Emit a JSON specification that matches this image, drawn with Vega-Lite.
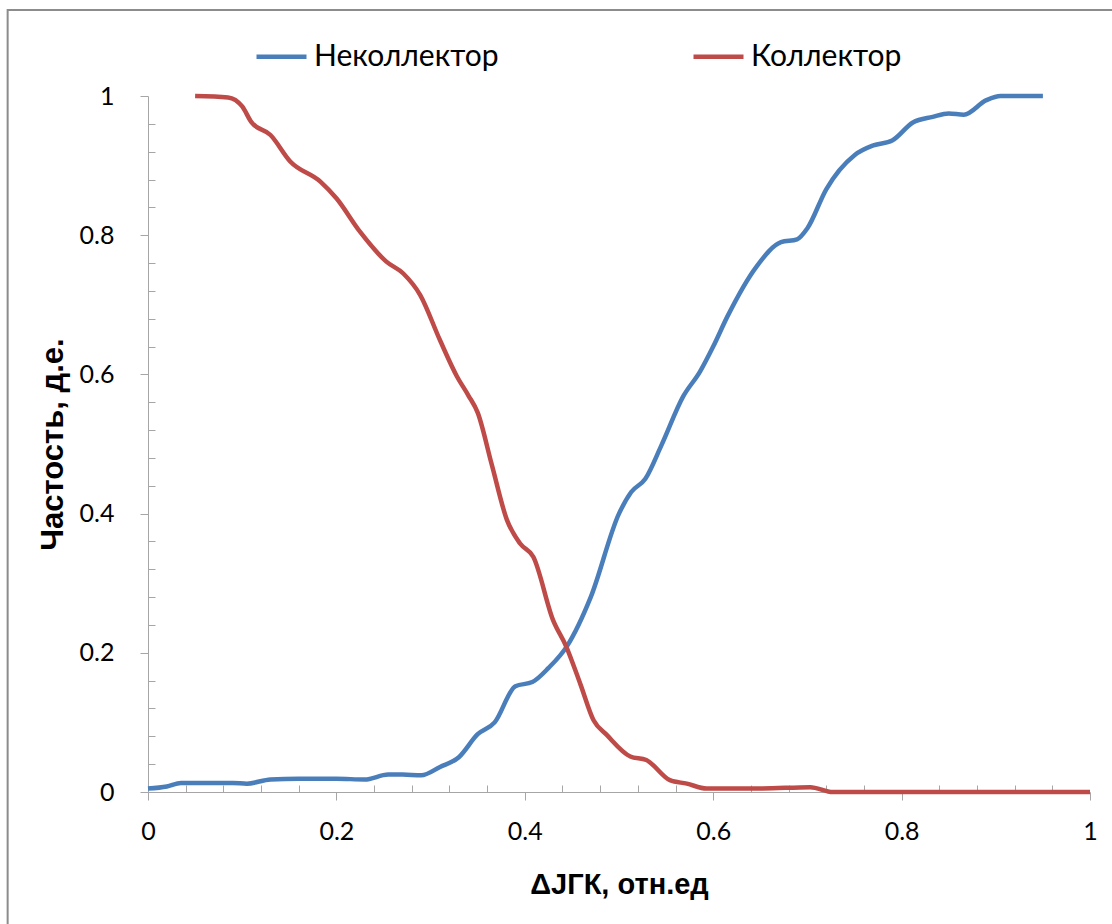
{
  "$schema": "https://vega.github.io/schema/vega-lite/v6.json",
  "width": 942,
  "height": 696,
  "autosize": {"type": "none"},
  "padding": {"left": 148, "top": 96, "right": 22, "bottom": 132},
  "background": "white",
  "config": {
    "view": {"stroke": null},
    "axis": {
      "domainColor": "#a6a6a6",
      "tickColor": "#a6a6a6",
      "gridColor": "#b3b3b3",
      "gridWidth": 1.3,
      "labelColor": "#000000",
      "labelFont": "Lato",
      "labelFontSize": 25,
      "titleColor": "#000000",
      "titleFont": "Liberation Sans",
      "titleFontWeight": "bold",
      "titleFontSize": 31
    }
  },
  "data": {
    "values": [
      {"series": "Неколлектор", "x": 0.0, "y": 0.005},
      {"series": "Неколлектор", "x": 0.02, "y": 0.008},
      {"series": "Неколлектор", "x": 0.035, "y": 0.013},
      {"series": "Неколлектор", "x": 0.06, "y": 0.013},
      {"series": "Неколлектор", "x": 0.09, "y": 0.013},
      {"series": "Неколлектор", "x": 0.105, "y": 0.012},
      {"series": "Неколлектор", "x": 0.13, "y": 0.018},
      {"series": "Неколлектор", "x": 0.16, "y": 0.019},
      {"series": "Неколлектор", "x": 0.2, "y": 0.019},
      {"series": "Неколлектор", "x": 0.23, "y": 0.018},
      {"series": "Неколлектор", "x": 0.255, "y": 0.025},
      {"series": "Неколлектор", "x": 0.27, "y": 0.025},
      {"series": "Неколлектор", "x": 0.29, "y": 0.024},
      {"series": "Неколлектор", "x": 0.31, "y": 0.036},
      {"series": "Неколлектор", "x": 0.33, "y": 0.05},
      {"series": "Неколлектор", "x": 0.35, "y": 0.083},
      {"series": "Неколлектор", "x": 0.368, "y": 0.1},
      {"series": "Неколлектор", "x": 0.39, "y": 0.152},
      {"series": "Неколлектор", "x": 0.408, "y": 0.158},
      {"series": "Неколлектор", "x": 0.425, "y": 0.178},
      {"series": "Неколлектор", "x": 0.445, "y": 0.21},
      {"series": "Неколлектор", "x": 0.47, "y": 0.28},
      {"series": "Неколлектор", "x": 0.5, "y": 0.4},
      {"series": "Неколлектор", "x": 0.513, "y": 0.431},
      {"series": "Неколлектор", "x": 0.528, "y": 0.45},
      {"series": "Неколлектор", "x": 0.545, "y": 0.498},
      {"series": "Неколлектор", "x": 0.568, "y": 0.568},
      {"series": "Неколлектор", "x": 0.586, "y": 0.604},
      {"series": "Неколлектор", "x": 0.6, "y": 0.64},
      {"series": "Неколлектор", "x": 0.615, "y": 0.683},
      {"series": "Неколлектор", "x": 0.646, "y": 0.755},
      {"series": "Неколлектор", "x": 0.672, "y": 0.79},
      {"series": "Неколлектор", "x": 0.689, "y": 0.794},
      {"series": "Неколлектор", "x": 0.7, "y": 0.81},
      {"series": "Неколлектор", "x": 0.72, "y": 0.866},
      {"series": "Неколлектор", "x": 0.75, "y": 0.915},
      {"series": "Неколлектор", "x": 0.77, "y": 0.929},
      {"series": "Неколлектор", "x": 0.79, "y": 0.936},
      {"series": "Неколлектор", "x": 0.812, "y": 0.962},
      {"series": "Неколлектор", "x": 0.833, "y": 0.97},
      {"series": "Неколлектор", "x": 0.85, "y": 0.975},
      {"series": "Неколлектор", "x": 0.866, "y": 0.973},
      {"series": "Неколлектор", "x": 0.89, "y": 0.994},
      {"series": "Неколлектор", "x": 0.905, "y": 1.0},
      {"series": "Неколлектор", "x": 0.95, "y": 1.0},
      {"series": "Коллектор", "x": 0.05, "y": 1.0},
      {"series": "Коллектор", "x": 0.085, "y": 0.998},
      {"series": "Коллектор", "x": 0.1, "y": 0.985},
      {"series": "Коллектор", "x": 0.11, "y": 0.962},
      {"series": "Коллектор", "x": 0.13, "y": 0.944},
      {"series": "Коллектор", "x": 0.151, "y": 0.906},
      {"series": "Коллектор", "x": 0.183, "y": 0.877},
      {"series": "Коллектор", "x": 0.2, "y": 0.853},
      {"series": "Коллектор", "x": 0.225, "y": 0.805},
      {"series": "Коллектор", "x": 0.253, "y": 0.762},
      {"series": "Коллектор", "x": 0.271, "y": 0.745},
      {"series": "Коллектор", "x": 0.289, "y": 0.714},
      {"series": "Коллектор", "x": 0.31, "y": 0.649},
      {"series": "Коллектор", "x": 0.328, "y": 0.597},
      {"series": "Коллектор", "x": 0.34, "y": 0.57},
      {"series": "Коллектор", "x": 0.35, "y": 0.545},
      {"series": "Коллектор", "x": 0.365, "y": 0.47},
      {"series": "Коллектор", "x": 0.381, "y": 0.391},
      {"series": "Коллектор", "x": 0.395, "y": 0.357},
      {"series": "Коллектор", "x": 0.409, "y": 0.338},
      {"series": "Коллектор", "x": 0.43, "y": 0.247},
      {"series": "Коллектор", "x": 0.444, "y": 0.209},
      {"series": "Коллектор", "x": 0.459, "y": 0.155},
      {"series": "Коллектор", "x": 0.473, "y": 0.103},
      {"series": "Коллектор", "x": 0.487, "y": 0.082},
      {"series": "Коллектор", "x": 0.512, "y": 0.051},
      {"series": "Коллектор", "x": 0.529, "y": 0.046},
      {"series": "Коллектор", "x": 0.554, "y": 0.017},
      {"series": "Коллектор", "x": 0.572, "y": 0.012},
      {"series": "Коллектор", "x": 0.593, "y": 0.005},
      {"series": "Коллектор", "x": 0.65, "y": 0.005},
      {"series": "Коллектор", "x": 0.703, "y": 0.007},
      {"series": "Коллектор", "x": 0.727, "y": 0.0},
      {"series": "Коллектор", "x": 1.0, "y": 0.0}
    ]
  },
  "resolve": {"axis": {"x": "independent", "y": "independent"}},
  "layer": [
    {
      "data": {"values": [{"frame": "chart area"}]},
      "mark": {"type": "rect", "fill": null, "stroke": "#8c8c8c", "strokeWidth": 2, "clip": false},
      "encoding": {
        "x": {"datum": -0.149, "type": "quantitative", "axis": null},
        "x2": {"datum": 1.2},
        "y": {"datum": 1.1235, "type": "quantitative", "axis": null},
        "y2": {"datum": -0.3}
      }
    },
    {
      "mark": {"type": "line", "interpolate": "monotone", "strokeWidth": 4.5, "clip": false},
      "encoding": {
        "x": {
          "field": "x",
          "type": "quantitative",
          "scale": {"domain": [0, 1], "nice": false},
          "axis": {
            "title": "ΔJГК, отн.ед",
            "titleFontSize": 29,
            "values": [0, 0.04, 0.08, 0.12, 0.16, 0.2, 0.24, 0.28, 0.32, 0.36, 0.4, 0.44, 0.48, 0.52, 0.56, 0.6, 0.64, 0.68, 0.72, 0.76, 0.8, 0.84, 0.88, 0.92, 0.96, 1],
            "labelExpr": "abs(datum.value*5 - round(datum.value*5)) < 1e-6 ? format(datum.value, '~g') : ''",
            "tickSize": {"condition": {"test": "abs(datum.value*5 - round(datum.value*5)) < 1e-6", "value": 8}, "value": -7},
            "gridOpacity": {"condition": {"test": "abs(datum.value*5 - round(datum.value*5)) < 1e-6", "value": 1}, "value": 0},
            "labelPadding": 19,
            "labelFlush": false,
            "labelOverlap": false,
            "titlePadding": 26
          }
        },
        "y": {
          "field": "y",
          "type": "quantitative",
          "scale": {"domain": [0, 1], "nice": false},
          "axis": {
            "title": "Частость, д.е.",
            "values": [0, 0.04, 0.08, 0.12, 0.16, 0.2, 0.24, 0.28, 0.32, 0.36, 0.4, 0.44, 0.48, 0.52, 0.56, 0.6, 0.64, 0.68, 0.72, 0.76, 0.8, 0.84, 0.88, 0.92, 0.96, 1],
            "labelExpr": "abs(datum.value*5 - round(datum.value*5)) < 1e-6 ? format(datum.value, '~g') : ''",
            "tickSize": {"condition": {"test": "abs(datum.value*5 - round(datum.value*5)) < 1e-6", "value": 8}, "value": -7},
            "gridOpacity": {"condition": {"test": "abs(datum.value*5 - round(datum.value*5)) < 1e-6", "value": 1}, "value": 0},
            "labelPadding": 26,
            "labelFlush": false,
            "labelOverlap": false,
            "titlePadding": 10
          }
        },
        "color": {
          "field": "series",
          "type": "nominal",
          "sort": ["Неколлектор", "Коллектор"],
          "scale": {"domain": ["Неколлектор", "Коллектор"], "range": ["#4a7ebb", "#be4b48"]},
          "legend": {
            "title": null,
            "orient": "none",
            "direction": "horizontal",
            "legendX": 106,
            "legendY": -67,
            "symbolType": "stroke",
            "symbolSize": 2500,
            "symbolStrokeWidth": 4.5,
            "labelFont": "Lato",
            "labelFontSize": 30,
            "labelColor": "#000000",
            "labelOffset": 5,
            "columnPadding": 185,
            "labelLimit": 400
          }
        }
      }
    }
  ]
}
